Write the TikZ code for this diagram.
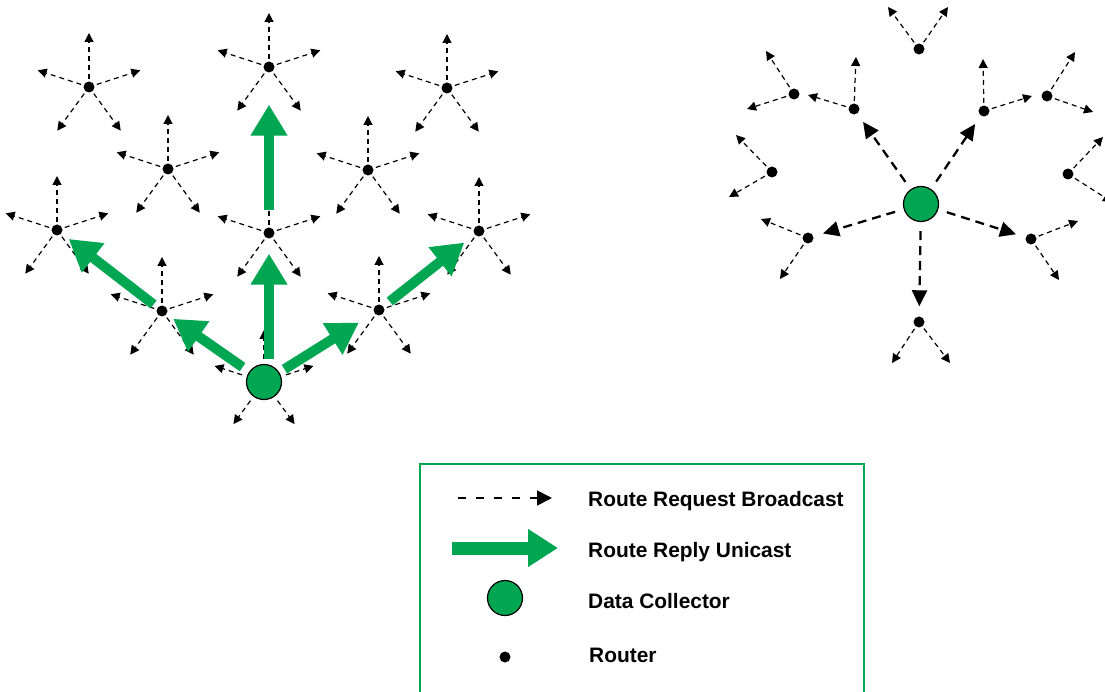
\documentclass[tikz,border=0pt]{standalone}
\usepackage{fontspec}
\setmainfont{Liberation Sans}
\usetikzlibrary{arrows.meta,calc}
\definecolor{dcgreen}{RGB}{0,166,81}
\begin{document}
\begin{tikzpicture}[x=1pt,y=1pt,
  router/.style={circle,fill=black,inner sep=0pt,minimum size=11pt},
  collector/.style={circle,fill=dcgreen,draw=black,line width=1.2pt,inner sep=0pt,minimum size=35pt},
  req/.style={dash pattern=on 5pt off 4pt,line width=1.2pt,-{Triangle[length=9pt,width=9pt]},shorten <=2.5pt},
  bigreq/.style={dash pattern=on 9pt off 6pt,line width=2.3pt,-{Triangle[length=16pt,width=15pt]},shorten <=9pt,shorten >=10pt},
  reply/.style={draw=dcgreen,line width=10pt,-{Triangle[length=31pt,width=35pt]}},
  legreq/.style={dash pattern=on 8pt off 10pt,line width=1.8pt,-{Triangle[length=15pt,width=15pt]}},
  legreply/.style={draw=dcgreen,line width=13pt,-{Triangle[length=30pt,width=36pt]}},
  lbl/.style={anchor=base west,font=\bfseries\fontsize{20.9}{24}\selectfont,inner sep=0pt},
  legendbox/.style={draw=dcgreen,line width=1.5pt}
]
\clip (0,0) rectangle (1105,-692);

% ---------- left: route reply ----------
\node[router] (A) at (89,-87) {};
\node[router] (B) at (269,-67) {};
\node[router] (C) at (447,-88) {};
\node[router] (D) at (168,-169) {};
\node[router] (E) at (368,-170) {};
\node[router] (F) at (57,-230) {};
\node[router] (G) at (269,-233) {};
\node[router] (H) at (479,-231) {};
\node[router] (I) at (162,-311) {};
\node[router] (J) at (379,-310) {};
\node[collector] (DC) at (264,-382) {};

\foreach \n in {A,B,C,D,E,F,G,H,I,J}{
  \foreach \a in {18,90,162,234,306}{
    \coordinate (\n-\a) at ($(\n)+(\a:54)$);
    \draw[req] (\n) -- (\n-\a);
  }
}
\foreach \a in {18,90,162,234,306}{
  \coordinate (DC-\a) at ($(DC)+(\a:52)$);
  \draw[req,shorten <=5pt] (DC) -- (DC-\a);
}

\draw[reply,shorten <=5pt,shorten >=15pt] (G |- DC.north) -- (G);
\draw[reply,shorten <=17pt,shorten >=32pt] (G) -- (B);
\draw[reply,shorten <=8pt,shorten >=8pt] (DC) -- (I);
\draw[reply,shorten <=5pt,shorten >=9pt] (I) -- (F);
\draw[reply,shorten <=6pt,shorten >=18pt] (DC) -- (J);
\draw[reply,shorten <=8pt,shorten >=13pt] (J) -- (H);

% ---------- right: route request ----------
\node[collector] (DC2) at (921,-204) {};
\node[router] (T)  at (919,-49) {};
\node[router] (R1) at (794,-94) {};
\node[router] (R2) at (854,-109) {};
\node[router] (R3) at (984,-111) {};
\node[router] (R4) at (1047,-96) {};
\node[router] (R5) at (772,-172) {};
\node[router] (R6) at (1068,-174) {};
\node[router] (R7) at (808,-238) {};
\node[router] (R8) at (1031,-239) {};
\node[router] (R9) at (919,-322) {};

\foreach \t in {R2,R3,R7,R8,R9}{
  \draw[bigreq] (DC2) -- (\t);
}

\coordinate (T-a)  at (888,-7);   \coordinate (T-b)  at (948,-7);
\coordinate (R1-a) at (766,-51);  \coordinate (R1-b) at (747,-109);
\coordinate (R2-a) at (856,-57);  \coordinate (R2-b) at (808,-95);
\coordinate (R3-a) at (983,-59);  \coordinate (R3-b) at (1032,-96);
\coordinate (R4-a) at (1075,-52); \coordinate (R4-b) at (1093,-112);
\coordinate (R5-a) at (736,-135); \coordinate (R5-b) at (729,-197);
\coordinate (R6-a) at (1103,-137);\coordinate (R6-b) at (1112,-202);
\coordinate (R7-a) at (761,-219); \coordinate (R7-b) at (780,-279);
\coordinate (R8-a) at (1078,-221);\coordinate (R8-b) at (1059,-280);
\coordinate (R9-a) at (892,-363); \coordinate (R9-b) at (950,-363);
\foreach \n in {T,R1,R2,R3,R4,R5,R6,R7,R8,R9}{
  \draw[req] (\n) -- (\n-a);
  \draw[req] (\n) -- (\n-b);
}

% ---------- legend ----------
\draw[legendbox] (420,-464) rectangle (864,-700);
\coordinate (L1s) at (458,-498); \coordinate (L1e) at (552,-498);
\draw[legreq] (L1s) -- (L1e);
\node[lbl] (T1) at (588,-506) {Route Request Broadcast};
\coordinate (L2s) at (452,-548); \coordinate (L2e) at (558,-548);
\draw[legreply] (L2s) -- (L2e);
\node[lbl] (T2) at (588,-557) {Route Reply Unicast};
\node[collector] (LDC) at (505,-598) {};
\node[lbl] (T3) at (588,-608) {Data Collector};
\node[router] (LR) at (505,-657) {};
\node[lbl] (T4) at (589,-662) {Router};
\end{tikzpicture}
\end{document}
